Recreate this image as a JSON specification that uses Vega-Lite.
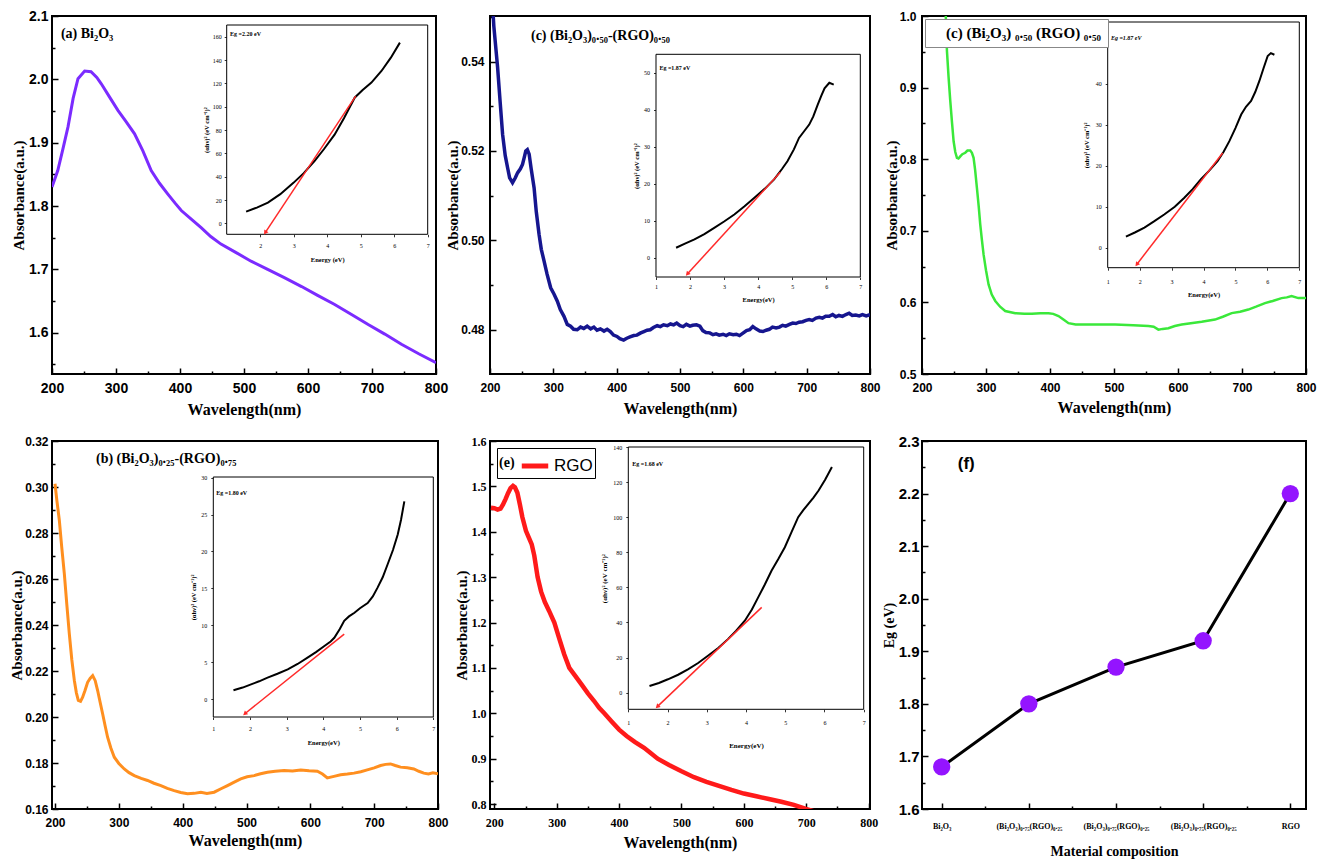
{
"$schema": "https://vega.github.io/schema/vega-lite/v6.json",
"background": "white",
"padding": {"left": 8, "top": 8, "right": 0, "bottom": 0},
"columns": 3,
"spacing": {"row": 67, "column": 52},
"bounds": "flush",
"align": "each",
"resolve": {"scale": {"color": "independent"}, "legend": {"color": "independent"}},
"config": {
  "view": {"stroke": "black", "strokeWidth": 2},
  "axis": {"grid": false, "domain": false, "tickCount": 100, "tickColor": "black", "tickWidth": 1.5, "labelColor": "black", "titleColor": "black", "labelFont": "Liberation Sans", "labelFontWeight": "bold", "titleFont": "Liberation Serif", "titleFontWeight": "bold", "labelOverlap": false, "labelFlush": false, "zindex": 1}
},
"datasets": {
  "a_main": [
    {"wavelength": 200, "absorbance": 1.83}, {"wavelength": 209, "absorbance": 1.856}, {"wavelength": 217, "absorbance": 1.89}, {"wavelength": 225, "absorbance": 1.925}, {"wavelength": 233, "absorbance": 1.97}, {"wavelength": 240.6, "absorbance": 2.001}, {"wavelength": 251, "absorbance": 2.013}, {"wavelength": 261, "absorbance": 2.012}, {"wavelength": 270, "absorbance": 2.003}, {"wavelength": 277, "absorbance": 1.993}, {"wavelength": 290, "absorbance": 1.972}, {"wavelength": 303, "absorbance": 1.951}, {"wavelength": 316, "absorbance": 1.933}, {"wavelength": 329, "absorbance": 1.914}, {"wavelength": 342, "absorbance": 1.887}, {"wavelength": 355, "absorbance": 1.856}, {"wavelength": 368, "absorbance": 1.836}, {"wavelength": 381, "absorbance": 1.819}, {"wavelength": 392, "absorbance": 1.805}, {"wavelength": 402, "absorbance": 1.793}, {"wavelength": 418, "absorbance": 1.779}, {"wavelength": 433, "absorbance": 1.766}, {"wavelength": 448, "absorbance": 1.752}, {"wavelength": 464, "absorbance": 1.74}, {"wavelength": 487, "absorbance": 1.727}, {"wavelength": 511, "absorbance": 1.713}, {"wavelength": 537, "absorbance": 1.7}, {"wavelength": 563, "absorbance": 1.687}, {"wavelength": 590, "absorbance": 1.673}, {"wavelength": 615, "absorbance": 1.659}, {"wavelength": 641, "absorbance": 1.645}, {"wavelength": 668, "absorbance": 1.629}, {"wavelength": 694, "absorbance": 1.613}, {"wavelength": 720, "absorbance": 1.598}, {"wavelength": 746, "absorbance": 1.582}, {"wavelength": 773, "absorbance": 1.567}, {"wavelength": 800, "absorbance": 1.553}
  ],
  "a_inset": [
    {"energy": 1.58, "ahv2": 10}, {"energy": 1.9, "ahv2": 13.5}, {"energy": 2.23, "ahv2": 17.7}, {"energy": 2.6, "ahv2": 25}, {"energy": 3.0, "ahv2": 34.9}, {"energy": 3.3, "ahv2": 43}, {"energy": 3.62, "ahv2": 53.4}, {"energy": 3.9, "ahv2": 63.5}, {"energy": 4.22, "ahv2": 76}, {"energy": 4.5, "ahv2": 90}, {"energy": 4.82, "ahv2": 107.7}, {"energy": 5.05, "ahv2": 114}, {"energy": 5.32, "ahv2": 120.6}, {"energy": 5.62, "ahv2": 130.6}, {"energy": 5.9, "ahv2": 142}, {"energy": 6.17, "ahv2": 154.9}
  ],
  "a_tangent": [{"energy": 4.85, "ahv2": 109, "end": "start"}, {"energy": 2.15, "ahv2": -8, "end": "tip"}],
  "c_main": [
    {"wavelength": 201, "absorbance": 0.56}, {"wavelength": 206, "absorbance": 0.548}, {"wavelength": 212, "absorbance": 0.5387}, {"wavelength": 216, "absorbance": 0.531}, {"wavelength": 219.9, "absorbance": 0.5237}, {"wavelength": 224, "absorbance": 0.519}, {"wavelength": 227.7, "absorbance": 0.5163}, {"wavelength": 231, "absorbance": 0.514}, {"wavelength": 235.6, "absorbance": 0.5129}, {"wavelength": 240, "absorbance": 0.514}, {"wavelength": 243.5, "absorbance": 0.5151}, {"wavelength": 248, "absorbance": 0.516}, {"wavelength": 251.3, "absorbance": 0.517}, {"wavelength": 254, "absorbance": 0.5185}, {"wavelength": 256.5, "absorbance": 0.52}, {"wavelength": 259, "absorbance": 0.5203}, {"wavelength": 261.8, "absorbance": 0.5193}, {"wavelength": 265, "absorbance": 0.516}, {"wavelength": 269.6, "absorbance": 0.5118}, {"wavelength": 273, "absorbance": 0.5065}, {"wavelength": 277.5, "absorbance": 0.5013}, {"wavelength": 281, "absorbance": 0.498}, {"wavelength": 285.3, "absorbance": 0.4954}, {"wavelength": 290, "absorbance": 0.4925}, {"wavelength": 295.8, "absorbance": 0.4894}, {"wavelength": 301, "absorbance": 0.488}, {"wavelength": 306.3, "absorbance": 0.4864}, {"wavelength": 311, "absorbance": 0.4845}, {"wavelength": 316.8, "absorbance": 0.483}, {"wavelength": 322, "absorbance": 0.4812}, {"wavelength": 327.2, "absorbance": 0.4808}, {"wavelength": 332, "absorbance": 0.4801}, {"wavelength": 337.7, "absorbance": 0.48}, {"wavelength": 343, "absorbance": 0.4806}, {"wavelength": 348, "absorbance": 0.4803}, {"wavelength": 353.4, "absorbance": 0.4808}, {"wavelength": 359, "absorbance": 0.4802}, {"wavelength": 364, "absorbance": 0.4806}, {"wavelength": 369, "absorbance": 0.4799}, {"wavelength": 374.3, "absorbance": 0.4802}, {"wavelength": 380, "absorbance": 0.4797}, {"wavelength": 385, "absorbance": 0.4801}, {"wavelength": 390, "absorbance": 0.4796}, {"wavelength": 395, "absorbance": 0.4788}, {"wavelength": 400.5, "absorbance": 0.4785}, {"wavelength": 405, "absorbance": 0.478}, {"wavelength": 411, "absorbance": 0.4777}, {"wavelength": 416, "absorbance": 0.4781}, {"wavelength": 421, "absorbance": 0.4784}, {"wavelength": 427, "absorbance": 0.4787}, {"wavelength": 432, "absorbance": 0.4788}, {"wavelength": 438, "absorbance": 0.4793}, {"wavelength": 443, "absorbance": 0.4796}, {"wavelength": 448, "absorbance": 0.4799}, {"wavelength": 453, "absorbance": 0.48}, {"wavelength": 458, "absorbance": 0.4805}, {"wavelength": 464, "absorbance": 0.4809}, {"wavelength": 469, "absorbance": 0.4807}, {"wavelength": 474, "absorbance": 0.4811}, {"wavelength": 480, "absorbance": 0.4809}, {"wavelength": 485, "absorbance": 0.4813}, {"wavelength": 490, "absorbance": 0.4811}, {"wavelength": 494.8, "absorbance": 0.4815}, {"wavelength": 500, "absorbance": 0.4809}, {"wavelength": 505, "absorbance": 0.4807}, {"wavelength": 510, "absorbance": 0.4812}, {"wavelength": 515.7, "absorbance": 0.4808}, {"wavelength": 520, "absorbance": 0.481}, {"wavelength": 526, "absorbance": 0.4811}, {"wavelength": 531.4, "absorbance": 0.4808}, {"wavelength": 536, "absorbance": 0.4798}, {"wavelength": 541, "absorbance": 0.4794}, {"wavelength": 547.1, "absorbance": 0.4793}, {"wavelength": 552, "absorbance": 0.4789}, {"wavelength": 557, "absorbance": 0.4791}, {"wavelength": 562, "absorbance": 0.4788}, {"wavelength": 568, "absorbance": 0.479}, {"wavelength": 573, "absorbance": 0.4787}, {"wavelength": 578, "absorbance": 0.4791}, {"wavelength": 584, "absorbance": 0.4789}, {"wavelength": 589, "absorbance": 0.479}, {"wavelength": 594, "absorbance": 0.4787}, {"wavelength": 600, "absorbance": 0.4793}, {"wavelength": 605, "absorbance": 0.4798}, {"wavelength": 610, "absorbance": 0.48}, {"wavelength": 615, "absorbance": 0.4807}, {"wavelength": 620, "absorbance": 0.4802}, {"wavelength": 626, "absorbance": 0.4797}, {"wavelength": 631, "absorbance": 0.4796}, {"wavelength": 636, "absorbance": 0.4799}, {"wavelength": 641, "absorbance": 0.4801}, {"wavelength": 646, "absorbance": 0.4806}, {"wavelength": 651.8, "absorbance": 0.4804}, {"wavelength": 657, "absorbance": 0.4806}, {"wavelength": 662, "absorbance": 0.481}, {"wavelength": 667, "absorbance": 0.4808}, {"wavelength": 672.8, "absorbance": 0.4812}, {"wavelength": 678, "absorbance": 0.4815}, {"wavelength": 683, "absorbance": 0.4814}, {"wavelength": 688, "absorbance": 0.4817}, {"wavelength": 693.7, "absorbance": 0.4818}, {"wavelength": 699, "absorbance": 0.4821}, {"wavelength": 704, "absorbance": 0.4823}, {"wavelength": 709, "absorbance": 0.4821}, {"wavelength": 714.7, "absorbance": 0.4826}, {"wavelength": 720, "absorbance": 0.4828}, {"wavelength": 725, "absorbance": 0.4826}, {"wavelength": 730, "absorbance": 0.483}, {"wavelength": 735.6, "absorbance": 0.483}, {"wavelength": 741, "absorbance": 0.4834}, {"wavelength": 746, "absorbance": 0.4829}, {"wavelength": 751, "absorbance": 0.4832}, {"wavelength": 756.5, "absorbance": 0.483}, {"wavelength": 762, "absorbance": 0.4834}, {"wavelength": 767, "absorbance": 0.4837}, {"wavelength": 772, "absorbance": 0.4832}, {"wavelength": 777.5, "absorbance": 0.4833}, {"wavelength": 783, "absorbance": 0.4831}, {"wavelength": 788, "absorbance": 0.4834}, {"wavelength": 794, "absorbance": 0.4831}, {"wavelength": 800, "absorbance": 0.4834}
  ],
  "c_inset": [
    {"energy": 1.59, "ahv2": 2.7}, {"energy": 1.85, "ahv2": 3.8}, {"energy": 2.13, "ahv2": 4.95}, {"energy": 2.42, "ahv2": 6.4}, {"energy": 2.71, "ahv2": 8.1}, {"energy": 3.0, "ahv2": 9.8}, {"energy": 3.3, "ahv2": 11.7}, {"energy": 3.6, "ahv2": 13.9}, {"energy": 3.89, "ahv2": 16.2}, {"energy": 4.2, "ahv2": 18.7}, {"energy": 4.47, "ahv2": 21.2}, {"energy": 4.7, "ahv2": 24}, {"energy": 4.86, "ahv2": 26.1}, {"energy": 5.05, "ahv2": 29.3}, {"energy": 5.2, "ahv2": 32.4}, {"energy": 5.35, "ahv2": 34.2}, {"energy": 5.5, "ahv2": 36}, {"energy": 5.62, "ahv2": 38.2}, {"energy": 5.75, "ahv2": 41.4}, {"energy": 5.85, "ahv2": 43.7}, {"energy": 5.95, "ahv2": 45.8}, {"energy": 6.09, "ahv2": 47.3}, {"energy": 6.22, "ahv2": 46.8}
  ],
  "c_tangent": [{"energy": 4.65, "ahv2": 23.1, "end": "start"}, {"energy": 1.92, "ahv2": -4.4, "end": "tip"}],
  "cr_main": [
    {"wavelength": 236.4, "absorbance": 1.02}, {"wavelength": 239, "absorbance": 0.951}, {"wavelength": 241.5, "absorbance": 0.915}, {"wavelength": 244.2, "absorbance": 0.881}, {"wavelength": 247, "absorbance": 0.85}, {"wavelength": 249.4, "absorbance": 0.825}, {"wavelength": 252, "absorbance": 0.81}, {"wavelength": 254.6, "absorbance": 0.802}, {"wavelength": 257, "absorbance": 0.801}, {"wavelength": 259.8, "absorbance": 0.804}, {"wavelength": 263, "absorbance": 0.807}, {"wavelength": 267.6, "absorbance": 0.809}, {"wavelength": 271, "absorbance": 0.812}, {"wavelength": 275.4, "absorbance": 0.812}, {"wavelength": 278, "absorbance": 0.809}, {"wavelength": 280.6, "absorbance": 0.802}, {"wavelength": 283, "absorbance": 0.785}, {"wavelength": 285.8, "absorbance": 0.76}, {"wavelength": 288.5, "absorbance": 0.735}, {"wavelength": 291, "absorbance": 0.709}, {"wavelength": 293.5, "absorbance": 0.688}, {"wavelength": 296.2, "absorbance": 0.667}, {"wavelength": 300, "absorbance": 0.645}, {"wavelength": 304, "absorbance": 0.625}, {"wavelength": 309, "absorbance": 0.611}, {"wavelength": 314.5, "absorbance": 0.602}, {"wavelength": 322, "absorbance": 0.594}, {"wavelength": 330, "absorbance": 0.588}, {"wavelength": 345.7, "absorbance": 0.585}, {"wavelength": 360, "absorbance": 0.584}, {"wavelength": 371.7, "absorbance": 0.584}, {"wavelength": 385, "absorbance": 0.585}, {"wavelength": 397.7, "absorbance": 0.585}, {"wavelength": 405, "absorbance": 0.584}, {"wavelength": 413.3, "absorbance": 0.581}, {"wavelength": 421, "absorbance": 0.576}, {"wavelength": 428.9, "absorbance": 0.571}, {"wavelength": 440, "absorbance": 0.569}, {"wavelength": 449.7, "absorbance": 0.569}, {"wavelength": 475, "absorbance": 0.569}, {"wavelength": 501.8, "absorbance": 0.569}, {"wavelength": 530, "absorbance": 0.568}, {"wavelength": 553.8, "absorbance": 0.567}, {"wavelength": 562, "absorbance": 0.566}, {"wavelength": 569.4, "absorbance": 0.562}, {"wavelength": 576, "absorbance": 0.563}, {"wavelength": 585, "absorbance": 0.564}, {"wavelength": 595, "absorbance": 0.567}, {"wavelength": 605.8, "absorbance": 0.569}, {"wavelength": 620, "absorbance": 0.571}, {"wavelength": 637, "absorbance": 0.573}, {"wavelength": 657.8, "absorbance": 0.576}, {"wavelength": 670, "absorbance": 0.58}, {"wavelength": 683.9, "absorbance": 0.585}, {"wavelength": 697, "absorbance": 0.587}, {"wavelength": 709.9, "absorbance": 0.59}, {"wavelength": 722, "absorbance": 0.594}, {"wavelength": 735.9, "absorbance": 0.599}, {"wavelength": 748, "absorbance": 0.602}, {"wavelength": 761.9, "absorbance": 0.606}, {"wavelength": 770, "absorbance": 0.607}, {"wavelength": 777.5, "absorbance": 0.609}, {"wavelength": 788, "absorbance": 0.606}, {"wavelength": 800, "absorbance": 0.606}
  ],
  "cr_inset": [
    {"energy": 1.57, "ahv2": 2.7}, {"energy": 1.85, "ahv2": 3.7}, {"energy": 2.15, "ahv2": 4.9}, {"energy": 2.45, "ahv2": 6.4}, {"energy": 2.77, "ahv2": 8.1}, {"energy": 3.1, "ahv2": 10}, {"energy": 3.4, "ahv2": 12.2}, {"energy": 3.66, "ahv2": 14.3}, {"energy": 3.92, "ahv2": 16.7}, {"energy": 4.18, "ahv2": 18.8}, {"energy": 4.44, "ahv2": 21.1}, {"energy": 4.63, "ahv2": 23.4}, {"energy": 4.81, "ahv2": 26}, {"energy": 5.0, "ahv2": 29.2}, {"energy": 5.18, "ahv2": 32.5}, {"energy": 5.33, "ahv2": 34.4}, {"energy": 5.49, "ahv2": 35.8}, {"energy": 5.62, "ahv2": 38}, {"energy": 5.75, "ahv2": 40.7}, {"energy": 5.88, "ahv2": 43.8}, {"energy": 6.01, "ahv2": 46.8}, {"energy": 6.11, "ahv2": 47.5}, {"energy": 6.22, "ahv2": 47.1}
  ],
  "cr_tangent": [{"energy": 4.6, "ahv2": 23.1, "end": "start"}, {"energy": 1.91, "ahv2": -4.1, "end": "tip"}],
  "b_main": [
    {"wavelength": 200, "absorbance": 0.3014}, {"wavelength": 203, "absorbance": 0.294}, {"wavelength": 206.8, "absorbance": 0.2855}, {"wavelength": 210.5, "absorbance": 0.274}, {"wavelength": 214.6, "absorbance": 0.2623}, {"wavelength": 218.5, "absorbance": 0.249}, {"wavelength": 222.4, "absorbance": 0.2362}, {"wavelength": 226.3, "absorbance": 0.225}, {"wavelength": 230.3, "absorbance": 0.2159}, {"wavelength": 233.5, "absorbance": 0.2105}, {"wavelength": 236.5, "absorbance": 0.2072}, {"wavelength": 240, "absorbance": 0.2068}, {"wavelength": 243.3, "absorbance": 0.2086}, {"wavelength": 247, "absorbance": 0.2115}, {"wavelength": 251.1, "absorbance": 0.2151}, {"wavelength": 255, "absorbance": 0.2168}, {"wavelength": 259, "absorbance": 0.218}, {"wavelength": 263, "absorbance": 0.2158}, {"wavelength": 266.8, "absorbance": 0.2115}, {"wavelength": 270.7, "absorbance": 0.2064}, {"wavelength": 274.6, "absorbance": 0.2014}, {"wavelength": 278.5, "absorbance": 0.1962}, {"wavelength": 282.4, "absorbance": 0.1912}, {"wavelength": 287.5, "absorbance": 0.1865}, {"wavelength": 292.9, "absorbance": 0.1825}, {"wavelength": 300, "absorbance": 0.1798}, {"wavelength": 308.5, "absorbance": 0.1774}, {"wavelength": 316, "absorbance": 0.1758}, {"wavelength": 324.2, "absorbance": 0.1745}, {"wavelength": 335, "absorbance": 0.1733}, {"wavelength": 345, "absorbance": 0.1724}, {"wavelength": 355, "absorbance": 0.1712}, {"wavelength": 365.9, "absorbance": 0.1702}, {"wavelength": 376, "absorbance": 0.169}, {"wavelength": 386.7, "absorbance": 0.168}, {"wavelength": 397, "absorbance": 0.1672}, {"wavelength": 407.6, "absorbance": 0.1666}, {"wavelength": 418, "absorbance": 0.1668}, {"wavelength": 428.5, "absorbance": 0.1673}, {"wavelength": 438, "absorbance": 0.1668}, {"wavelength": 449.3, "absorbance": 0.1673}, {"wavelength": 460, "absorbance": 0.1688}, {"wavelength": 470.2, "absorbance": 0.1702}, {"wavelength": 480, "absorbance": 0.1716}, {"wavelength": 491, "absorbance": 0.1731}, {"wavelength": 501, "absorbance": 0.174}, {"wavelength": 511.9, "absorbance": 0.1745}, {"wavelength": 522, "absorbance": 0.1753}, {"wavelength": 532.8, "absorbance": 0.176}, {"wavelength": 545, "absorbance": 0.1764}, {"wavelength": 558.9, "absorbance": 0.1767}, {"wavelength": 572, "absorbance": 0.1765}, {"wavelength": 585, "absorbance": 0.177}, {"wavelength": 598, "absorbance": 0.1766}, {"wavelength": 611, "absorbance": 0.1764}, {"wavelength": 619, "absorbance": 0.1752}, {"wavelength": 626.6, "absorbance": 0.1735}, {"wavelength": 637, "absorbance": 0.1742}, {"wavelength": 647.5, "absorbance": 0.1749}, {"wavelength": 658, "absorbance": 0.1752}, {"wavelength": 668.4, "absorbance": 0.1756}, {"wavelength": 679, "absorbance": 0.1762}, {"wavelength": 689.2, "absorbance": 0.177}, {"wavelength": 700, "absorbance": 0.1779}, {"wavelength": 710.1, "absorbance": 0.1789}, {"wavelength": 718, "absorbance": 0.1794}, {"wavelength": 725.7, "absorbance": 0.1796}, {"wavelength": 733, "absorbance": 0.1789}, {"wavelength": 741.3, "absorbance": 0.1782}, {"wavelength": 752, "absorbance": 0.1779}, {"wavelength": 762.2, "absorbance": 0.1774}, {"wavelength": 770, "absorbance": 0.1764}, {"wavelength": 777.8, "absorbance": 0.1756}, {"wavelength": 785, "absorbance": 0.1752}, {"wavelength": 792, "absorbance": 0.1757}, {"wavelength": 800, "absorbance": 0.1753}
  ],
  "b_inset": [
    {"energy": 1.55, "ahv2": 1.18}, {"energy": 1.8, "ahv2": 1.55}, {"energy": 2.03, "ahv2": 1.99}, {"energy": 2.25, "ahv2": 2.4}, {"energy": 2.48, "ahv2": 2.89}, {"energy": 2.75, "ahv2": 3.42}, {"energy": 3.03, "ahv2": 4.02}, {"energy": 3.3, "ahv2": 4.75}, {"energy": 3.57, "ahv2": 5.6}, {"energy": 3.8, "ahv2": 6.35}, {"energy": 4.03, "ahv2": 7.18}, {"energy": 4.2, "ahv2": 7.8}, {"energy": 4.3, "ahv2": 8.3}, {"energy": 4.45, "ahv2": 9.5}, {"energy": 4.57, "ahv2": 10.6}, {"energy": 4.7, "ahv2": 11.2}, {"energy": 4.85, "ahv2": 11.7}, {"energy": 5.0, "ahv2": 12.3}, {"energy": 5.21, "ahv2": 13.0}, {"energy": 5.35, "ahv2": 13.9}, {"energy": 5.48, "ahv2": 15.1}, {"energy": 5.62, "ahv2": 16.5}, {"energy": 5.75, "ahv2": 18.2}, {"energy": 5.9, "ahv2": 20.2}, {"energy": 6.03, "ahv2": 22.3}, {"energy": 6.12, "ahv2": 24.3}, {"energy": 6.21, "ahv2": 26.8}
  ],
  "b_tangent": [{"energy": 4.57, "ahv2": 8.8, "end": "start"}, {"energy": 1.86, "ahv2": -2.0, "end": "tip"}],
  "e_main": [
    {"wavelength": 194.6, "absorbance": 1.453}, {"wavelength": 200, "absorbance": 1.452}, {"wavelength": 205.3, "absorbance": 1.449}, {"wavelength": 210, "absorbance": 1.451}, {"wavelength": 214, "absorbance": 1.46}, {"wavelength": 218, "absorbance": 1.472}, {"wavelength": 222, "absorbance": 1.485}, {"wavelength": 226, "absorbance": 1.496}, {"wavelength": 230, "absorbance": 1.501}, {"wavelength": 233, "absorbance": 1.498}, {"wavelength": 237, "absorbance": 1.486}, {"wavelength": 241, "absorbance": 1.46}, {"wavelength": 245, "absorbance": 1.432}, {"wavelength": 250.7, "absorbance": 1.402}, {"wavelength": 255, "absorbance": 1.388}, {"wavelength": 260, "absorbance": 1.372}, {"wavelength": 264, "absorbance": 1.348}, {"wavelength": 269.4, "absorbance": 1.3}, {"wavelength": 275, "absorbance": 1.268}, {"wavelength": 281, "absorbance": 1.245}, {"wavelength": 288, "absorbance": 1.225}, {"wavelength": 296.2, "absorbance": 1.2}, {"wavelength": 304, "absorbance": 1.165}, {"wavelength": 312, "absorbance": 1.13}, {"wavelength": 320.2, "absorbance": 1.1}, {"wavelength": 330, "absorbance": 1.082}, {"wavelength": 340, "absorbance": 1.063}, {"wavelength": 350, "absorbance": 1.044}, {"wavelength": 360, "absorbance": 1.027}, {"wavelength": 368, "absorbance": 1.012}, {"wavelength": 376.3, "absorbance": 1.0}, {"wavelength": 388, "absorbance": 0.982}, {"wavelength": 400, "absorbance": 0.964}, {"wavelength": 412, "absorbance": 0.95}, {"wavelength": 425, "absorbance": 0.937}, {"wavelength": 440, "absorbance": 0.924}, {"wavelength": 450, "absorbance": 0.913}, {"wavelength": 461.8, "absorbance": 0.9}, {"wavelength": 480, "absorbance": 0.886}, {"wavelength": 500, "absorbance": 0.872}, {"wavelength": 520, "absorbance": 0.859}, {"wavelength": 540, "absorbance": 0.849}, {"wavelength": 560, "absorbance": 0.84}, {"wavelength": 580, "absorbance": 0.831}, {"wavelength": 600, "absorbance": 0.823}, {"wavelength": 620, "absorbance": 0.817}, {"wavelength": 640, "absorbance": 0.811}, {"wavelength": 660, "absorbance": 0.805}, {"wavelength": 680, "absorbance": 0.798}, {"wavelength": 699.5, "absorbance": 0.789}, {"wavelength": 712, "absorbance": 0.784}
  ],
  "e_inset": [
    {"energy": 1.54, "ahv2": 3.8}, {"energy": 1.78, "ahv2": 5.5}, {"energy": 2.01, "ahv2": 7.6}, {"energy": 2.27, "ahv2": 10.2}, {"energy": 2.52, "ahv2": 13.3}, {"energy": 2.78, "ahv2": 16.9}, {"energy": 3.03, "ahv2": 21}, {"energy": 3.3, "ahv2": 25.6}, {"energy": 3.54, "ahv2": 30.5}, {"energy": 3.75, "ahv2": 35.3}, {"energy": 3.97, "ahv2": 41}, {"energy": 4.15, "ahv2": 47.4}, {"energy": 4.31, "ahv2": 54.3}, {"energy": 4.48, "ahv2": 61.6}, {"energy": 4.65, "ahv2": 69.5}, {"energy": 4.82, "ahv2": 76}, {"energy": 4.99, "ahv2": 82.9}, {"energy": 5.16, "ahv2": 91.5}, {"energy": 5.33, "ahv2": 100}, {"energy": 5.46, "ahv2": 104}, {"energy": 5.59, "ahv2": 107.6}, {"energy": 5.72, "ahv2": 111.2}, {"energy": 5.85, "ahv2": 115.2}, {"energy": 6.02, "ahv2": 121.5}, {"energy": 6.19, "ahv2": 128.6}
  ],
  "e_tangent": [{"energy": 4.4, "ahv2": 48.6, "end": "start"}, {"energy": 1.74, "ahv2": -8.0, "end": "tip"}],
  "f_eg": [
    {"sample_no": 1, "composition": "Bi₂O₃", "eg": 1.68}, {"sample_no": 2, "composition": "(Bi₂O₃)₀.₇₅(RGO)₀.₂₅", "eg": 1.8}, {"sample_no": 3, "composition": "(Bi₂O₃)₀.₇₅(RGO)₀.₂₅", "eg": 1.87}, {"sample_no": 4, "composition": "(Bi₂O₃)₀.₇₅(RGO)₀.₂₅", "eg": 1.92}, {"sample_no": 5, "composition": "RGO", "eg": 2.2}
  ]
},
"concat": [
 {
  "width": 384, "height": 358,
  "layer": [
   {"layer": [
     {"data": {"name": "a_main"}, "mark": {"type": "line", "color": "#7B2BFF", "strokeWidth": 3, "clip": true},
      "encoding": {
        "x": {"field": "wavelength", "type": "quantitative", "scale": {"domain": [200, 800], "nice": false, "zero": false},
              "axis": {"orient": "bottom", "values": [200,250,300,350,400,450,500,550,600,650,700,750,800], "labelExpr": "datum.value % 100 === 0 ? datum.label : ''", "tickSize": {"condition": {"test": "datum.value % 100 === 0", "value": -6}, "value": -3}, "labelPadding": 13, "labelFontSize": 14, "title": "Wavelength(nm)", "titleFontSize": 16, "titlePadding": 3}},
        "y": {"field": "absorbance", "type": "quantitative", "scale": {"domain": [1.535, 2.1], "nice": false, "zero": false},
              "axis": {"orient": "left", "values": [1.55,1.6,1.65,1.7,1.75,1.8,1.85,1.9,1.95,2.0,2.05,2.1], "labelExpr": "abs(datum.value*10 - round(datum.value*10)) < 0.01 ? format(datum.value, '.1f') : ''", "tickSize": {"condition": {"test": "abs(datum.value*10 - round(datum.value*10)) < 0.01", "value": -6}, "value": -3}, "labelPadding": 10, "labelFontSize": 14, "title": "Absorbance(a.u.)", "titleFontSize": 15, "titlePadding": 2}}
      }},
     {"data": {"values": [{"label": "(a)  Bi₂O₃"}]}, "mark": {"type": "text", "align": "left", "baseline": "middle", "font": "Liberation Serif", "fontWeight": "bold", "fontSize": 14},
      "encoding": {"x": {"datum": 214, "type": "quantitative"}, "y": {"datum": 2.072, "type": "quantitative"}, "text": {"field": "label"}}}
   ]},
   {"layer": [
     {"data": {"values": [{}]}, "mark": {"type": "rect", "fill": "white", "stroke": "black", "strokeWidth": 1},
      "encoding": {
        "x": {"datum": 1, "type": "quantitative", "scale": {"domain": [1, 7], "range": [174.7, 375.7], "nice": false, "zero": false},
              "axis": {"orient": "bottom", "offset": -139.7, "values": [2,3,4,5,6,7], "format": "d", "tickSize": 2.5, "tickWidth": 0.8, "labelPadding": 6, "labelFontSize": 6, "labelFont": "Liberation Serif", "labelFontWeight": "normal", "title": "Energy (eV)", "titleFontSize": 6.5, "titlePadding": 8}},
        "x2": {"datum": 7},
        "y": {"datum": -9.4, "type": "quantitative", "scale": {"domain": [-9.4, 170], "range": [218.3, 9], "nice": false, "zero": false},
              "axis": {"orient": "left", "offset": -174.7, "values": [0,20,40,60,80,100,120,140,160], "format": "d", "tickSize": 2.5, "tickWidth": 0.8, "labelPadding": 3, "labelFontSize": 6, "labelFont": "Liberation Serif", "labelFontWeight": "normal", "title": "(αhν)² (eV cm⁻¹)²", "titleFontSize": 6.5, "titlePadding": 3}},
        "y2": {"datum": 170}
      }},
     {"data": {"name": "a_inset"}, "mark": {"type": "line", "color": "black", "strokeWidth": 2},
      "encoding": {"x": {"field": "energy", "type": "quantitative"}, "y": {"field": "ahv2", "type": "quantitative"}}},
     {"data": {"name": "a_tangent"}, "mark": {"type": "line", "color": "#FF2A2A", "strokeWidth": 1.5},
      "encoding": {"x": {"field": "energy", "type": "quantitative"}, "y": {"field": "ahv2", "type": "quantitative"}}},
     {"data": {"name": "a_tangent"}, "transform": [{"filter": "datum.end === 'tip'"}], "mark": {"type": "point", "shape": "triangle-up", "filled": true, "color": "#FF2A2A", "opacity": 1, "size": 25, "angle": 213},
      "encoding": {"x": {"field": "energy", "type": "quantitative"}, "y": {"field": "ahv2", "type": "quantitative"}}},
     {"data": {"values": [{"label": "Eg =2.20 eV"}]}, "mark": {"type": "text", "align": "left", "baseline": "middle", "font": "Liberation Serif", "fontWeight": "bold", "fontSize": 6},
      "encoding": {"x": {"datum": 1.1, "type": "quantitative"}, "y": {"datum": 162, "type": "quantitative"}, "text": {"field": "label"}}}
   ]}
  ],
  "resolve": {"scale": {"x": "independent", "y": "independent"}, "axis": {"x": "independent", "y": "independent"}}
 },
 {
  "width": 380, "height": 358,
  "layer": [
   {"layer": [
     {"data": {"name": "c_main"}, "mark": {"type": "line", "color": "#16168F", "strokeWidth": 3.5, "clip": true},
      "encoding": {
        "x": {"field": "wavelength", "type": "quantitative", "scale": {"domain": [200, 800], "nice": false, "zero": false},
              "axis": {"orient": "bottom", "values": [200,250,300,350,400,450,500,550,600,650,700,750,800], "labelExpr": "datum.value % 100 === 0 ? datum.label : ''", "tickSize": {"condition": {"test": "datum.value % 100 === 0", "value": -6}, "value": -3}, "labelPadding": 14, "labelFontSize": 12, "title": "Wavelength(nm)", "titleFontSize": 16, "titlePadding": 4}},
        "y": {"field": "absorbance", "type": "quantitative", "scale": {"domain": [0.4701, 0.5502], "nice": false, "zero": false},
              "axis": {"orient": "left", "values": [0.47,0.48,0.49,0.5,0.51,0.52,0.53,0.54,0.55], "labelExpr": "round(datum.value*100) % 2 === 0 ? format(datum.value, '.2f') : ''", "tickSize": {"condition": {"test": "round(datum.value*100) % 2 === 0", "value": -6}, "value": -3}, "labelPadding": 12, "labelFontSize": 12, "title": "Absorbance(a.u.)", "titleFontSize": 15, "titlePadding": 0}}
      }},
     {"data": {"values": [{"label": "(c)  (Bi₂O₃)₀.₅₀-(RGO)₀.₅₀"}]}, "mark": {"type": "text", "align": "left", "baseline": "middle", "font": "Liberation Serif", "fontWeight": "bold", "fontSize": 14},
      "encoding": {"x": {"datum": 264.7, "type": "quantitative"}, "y": {"datum": 0.5457, "type": "quantitative"}, "text": {"field": "label"}}}
   ]},
   {"layer": [
     {"data": {"values": [{}]}, "mark": {"type": "rect", "fill": "white", "stroke": "black", "strokeWidth": 1},
      "encoding": {
        "x": {"datum": 1, "type": "quantitative", "scale": {"domain": [1, 7], "range": [166, 370.3], "nice": false, "zero": false},
              "axis": {"orient": "bottom", "offset": -97, "values": [1,2,3,4,5,6,7], "format": "d", "tickSize": 2.5, "tickWidth": 0.8, "labelPadding": 4, "labelFontSize": 6, "labelFont": "Liberation Serif", "labelFontWeight": "normal", "title": "Energy(eV)", "titleFontSize": 6.5, "titlePadding": 7}},
        "x2": {"datum": 7},
        "y": {"datum": -5.2, "type": "quantitative", "scale": {"domain": [-5.2, 55], "range": [261, 38.3], "nice": false, "zero": false},
              "axis": {"orient": "left", "offset": -166, "values": [0,10,20,30,40,50], "format": "d", "tickSize": 2.5, "tickWidth": 0.8, "labelPadding": 4, "labelFontSize": 6, "labelFont": "Liberation Serif", "labelFontWeight": "normal", "title": "(αhν)² (eV cm⁻¹)²", "titleFontSize": 6.5, "titlePadding": 4}},
        "y2": {"datum": 55}
      }},
     {"data": {"name": "c_inset"}, "mark": {"type": "line", "color": "black", "strokeWidth": 2},
      "encoding": {"x": {"field": "energy", "type": "quantitative"}, "y": {"field": "ahv2", "type": "quantitative"}}},
     {"data": {"name": "c_tangent"}, "mark": {"type": "line", "color": "#FF2A2A", "strokeWidth": 1.5},
      "encoding": {"x": {"field": "energy", "type": "quantitative"}, "y": {"field": "ahv2", "type": "quantitative"}}},
     {"data": {"name": "c_tangent"}, "transform": [{"filter": "datum.end === 'tip'"}], "mark": {"type": "point", "shape": "triangle-up", "filled": true, "color": "#FF2A2A", "opacity": 1, "size": 25, "angle": 222},
      "encoding": {"x": {"field": "energy", "type": "quantitative"}, "y": {"field": "ahv2", "type": "quantitative"}}},
     {"data": {"values": [{"label": "Eg =1.87 eV"}]}, "mark": {"type": "text", "align": "left", "baseline": "middle", "font": "Liberation Serif", "fontWeight": "bold", "fontSize": 6},
      "encoding": {"x": {"datum": 1.1, "type": "quantitative"}, "y": {"datum": 51.4, "type": "quantitative"}, "text": {"field": "label"}}}
   ]}
  ],
  "resolve": {"scale": {"x": "independent", "y": "independent"}, "axis": {"x": "independent", "y": "independent"}}
 },
 {
  "width": 384, "height": 358,
  "layer": [
   {"layer": [
     {"data": {"name": "cr_main"}, "mark": {"type": "line", "strokeWidth": 2.5, "clip": true},
      "encoding": {
        "x": {"field": "wavelength", "type": "quantitative", "scale": {"domain": [200, 800], "nice": false, "zero": false},
              "axis": {"orient": "bottom", "values": [200,250,300,350,400,450,500,550,600,650,700,750,800], "labelExpr": "datum.value % 100 === 0 ? datum.label : ''", "tickSize": {"condition": {"test": "datum.value % 100 === 0", "value": -6}, "value": -3}, "labelPadding": 14, "labelFontSize": 12, "title": "Wavelength(nm)", "titleFontSize": 16, "titlePadding": 3}},
        "y": {"field": "absorbance", "type": "quantitative", "scale": {"domain": [0.5, 1.0], "nice": false, "zero": false},
              "axis": {"orient": "left", "values": [0.5,0.55,0.6,0.65,0.7,0.75,0.8,0.85,0.9,0.95,1.0], "labelExpr": "abs(datum.value*10 - round(datum.value*10)) < 0.01 ? format(datum.value, '.1f') : ''", "tickSize": {"condition": {"test": "abs(datum.value*10 - round(datum.value*10)) < 0.01", "value": -6}, "value": -3}, "labelPadding": 12, "labelFontSize": 12, "title": "Absorbance(a.u.)", "titleFontSize": 15, "titlePadding": 0}},
        "color": {"datum": "(c) (Bi₂O₃) ₀.₅₀ (RGO) ₀.₅₀", "type": "nominal", "scale": {"range": ["#3AE83A"]},
                  "legend": {"title": null, "orient": "top-left", "offset": 3, "symbolOpacity": 0, "symbolSize": 0, "labelOffset": 0, "labelFont": "Liberation Serif", "labelFontWeight": "bold", "labelFontSize": 15, "labelColor": "black", "labelLimit": 400, "strokeColor": "#888888", "padding": 6, "fillColor": "white"}}
      }}
   ]},
   {"layer": [
     {"data": {"values": [{}]}, "mark": {"type": "rect", "fill": "white", "stroke": "black", "strokeWidth": 1},
      "encoding": {
        "x": {"datum": 1, "type": "quantitative", "scale": {"domain": [1, 7], "range": [185.7, 377.3], "nice": false, "zero": false},
              "axis": {"orient": "bottom", "offset": -106.3, "values": [1,2,3,4,5,6,7], "format": "d", "tickSize": 2.5, "tickWidth": 0.8, "labelPadding": 8, "labelFontSize": 6, "labelFont": "Liberation Serif", "labelFontWeight": "normal", "title": "Energy(eV)", "titleFontSize": 6.5, "titlePadding": 7}},
        "x2": {"datum": 7},
        "y": {"datum": -4.9, "type": "quantitative", "scale": {"domain": [-4.9, 55.1], "range": [251.7, 6], "nice": false, "zero": false},
              "axis": {"orient": "left", "offset": -185.7, "values": [0,10,20,30,40,50], "format": "d", "tickSize": 2.5, "tickWidth": 0.8, "labelPadding": 4, "labelFontSize": 6, "labelFont": "Liberation Serif", "labelFontWeight": "normal", "title": "(αhν)² (eV cm⁻¹)²", "titleFontSize": 6.5, "titlePadding": 6}},
        "y2": {"datum": 55.1}
      }},
     {"data": {"name": "cr_inset"}, "mark": {"type": "line", "color": "black", "strokeWidth": 2},
      "encoding": {"x": {"field": "energy", "type": "quantitative"}, "y": {"field": "ahv2", "type": "quantitative"}}},
     {"data": {"name": "cr_tangent"}, "mark": {"type": "line", "color": "#FF2A2A", "strokeWidth": 1.5},
      "encoding": {"x": {"field": "energy", "type": "quantitative"}, "y": {"field": "ahv2", "type": "quantitative"}}},
     {"data": {"name": "cr_tangent"}, "transform": [{"filter": "datum.end === 'tip'"}], "mark": {"type": "point", "shape": "triangle-up", "filled": true, "color": "#FF2A2A", "opacity": 1, "size": 25, "angle": 217},
      "encoding": {"x": {"field": "energy", "type": "quantitative"}, "y": {"field": "ahv2", "type": "quantitative"}}},
     {"data": {"values": [{"label": "Eg =1.87 eV"}]}, "mark": {"type": "text", "align": "left", "baseline": "middle", "font": "Liberation Serif", "fontWeight": "bold", "fontStyle": "italic", "fontSize": 6},
      "encoding": {"x": {"datum": 1.1, "type": "quantitative"}, "y": {"datum": 51.3, "type": "quantitative"}, "text": {"field": "label"}}}
   ]}
  ],
  "resolve": {"scale": {"x": "independent", "y": "independent"}, "axis": {"x": "independent", "y": "independent"}}
 },
 {
  "width": 386, "height": 368,
  "layer": [
   {"layer": [
     {"data": {"name": "b_main"}, "mark": {"type": "line", "color": "#FF8F1F", "strokeWidth": 3, "clip": true},
      "encoding": {
        "x": {"field": "wavelength", "type": "quantitative", "scale": {"domain": [195.3, 800], "nice": false, "zero": false},
              "axis": {"orient": "bottom", "values": [200,250,300,350,400,450,500,550,600,650,700,750,800], "labelExpr": "datum.value % 100 === 0 ? datum.label : ''", "tickSize": {"condition": {"test": "datum.value % 100 === 0", "value": -6}, "value": -3}, "labelPadding": 14, "labelFontSize": 12, "title": "Wavelength(nm)", "titleFontSize": 16, "titlePadding": 1}},
        "y": {"field": "absorbance", "type": "quantitative", "scale": {"domain": [0.16, 0.32], "nice": false, "zero": false},
              "axis": {"orient": "left", "values": [0.16,0.17,0.18,0.19,0.2,0.21,0.22,0.23,0.24,0.25,0.26,0.27,0.28,0.29,0.3,0.31,0.32], "labelExpr": "round(datum.value*100) % 2 === 0 ? format(datum.value, '.2f') : ''", "tickSize": {"condition": {"test": "round(datum.value*100) % 2 === 0", "value": -6}, "value": -3}, "labelPadding": 10, "labelFontSize": 12, "title": "Absorbance(a.u.)", "titleFontSize": 15, "titlePadding": 0}}
      }},
     {"data": {"values": [{"label": "(b)  (Bi₂O₃)₀.₂₅-(RGO)₀.₇₅"}]}, "mark": {"type": "text", "align": "left", "baseline": "middle", "font": "Liberation Serif", "fontWeight": "bold", "fontSize": 14},
      "encoding": {"x": {"datum": 264.2, "type": "quantitative"}, "y": {"datum": 0.312, "type": "quantitative"}, "text": {"field": "label"}}}
   ]},
   {"layer": [
     {"data": {"values": [{}]}, "mark": {"type": "rect", "fill": "white", "stroke": "black", "strokeWidth": 1},
      "encoding": {
        "x": {"datum": 1, "type": "quantitative", "scale": {"domain": [1, 7], "range": [161.3, 381.3], "nice": false, "zero": false},
              "axis": {"orient": "bottom", "offset": -92, "values": [1,2,3,4,5,6,7], "format": "d", "tickSize": 2.5, "tickWidth": 0.8, "labelPadding": 6, "labelFontSize": 6, "labelFont": "Liberation Serif", "labelFontWeight": "normal", "title": "Energy(eV)", "titleFontSize": 6.5, "titlePadding": 8}},
        "x2": {"datum": 7},
        "y": {"datum": -2.44, "type": "quantitative", "scale": {"domain": [-2.44, 30.1], "range": [276, 36], "nice": false, "zero": false},
              "axis": {"orient": "left", "offset": -161.3, "values": [0,5,10,15,20,25,30], "format": "d", "tickSize": 2.5, "tickWidth": 0.8, "labelPadding": 4, "labelFontSize": 6, "labelFont": "Liberation Serif", "labelFontWeight": "normal", "title": "(αhν)² (eV cm⁻¹)²", "titleFontSize": 6.5, "titlePadding": 4}},
        "y2": {"datum": 30.1}
      }},
     {"data": {"name": "b_inset"}, "mark": {"type": "line", "color": "black", "strokeWidth": 2},
      "encoding": {"x": {"field": "energy", "type": "quantitative"}, "y": {"field": "ahv2", "type": "quantitative"}}},
     {"data": {"name": "b_tangent"}, "mark": {"type": "line", "color": "#FF2A2A", "strokeWidth": 1.5},
      "encoding": {"x": {"field": "energy", "type": "quantitative"}, "y": {"field": "ahv2", "type": "quantitative"}}},
     {"data": {"name": "b_tangent"}, "transform": [{"filter": "datum.end === 'tip'"}], "mark": {"type": "point", "shape": "triangle-up", "filled": true, "color": "#FF2A2A", "opacity": 1, "size": 25, "angle": 230},
      "encoding": {"x": {"field": "energy", "type": "quantitative"}, "y": {"field": "ahv2", "type": "quantitative"}}},
     {"data": {"values": [{"label": "Eg =1.80 eV"}]}, "mark": {"type": "text", "align": "left", "baseline": "middle", "font": "Liberation Serif", "fontWeight": "bold", "fontSize": 6},
      "encoding": {"x": {"datum": 1.08, "type": "quantitative"}, "y": {"datum": 27.9, "type": "quantitative"}, "text": {"field": "label"}}}
   ]}
  ],
  "resolve": {"scale": {"x": "independent", "y": "independent"}, "axis": {"x": "independent", "y": "independent"}}
 },
 {
  "width": 380, "height": 368,
  "layer": [
   {"layer": [
     {"data": {"name": "e_main"}, "mark": {"type": "line", "strokeWidth": 4.5, "clip": true},
      "encoding": {
        "x": {"field": "wavelength", "type": "quantitative", "scale": {"domain": [193.1, 802.1], "nice": false, "zero": false},
              "axis": {"orient": "bottom", "values": [200,250,300,350,400,450,500,550,600,650,700,750,800], "labelExpr": "datum.value % 100 === 0 ? datum.label : ''", "tickSize": {"condition": {"test": "datum.value % 100 === 0", "value": -6}, "value": -3}, "labelPadding": 14, "labelFontSize": 12, "labelFont": "Liberation Serif", "title": "Wavelength(nm)", "titleFontSize": 16, "titlePadding": 3}},
        "y": {"field": "absorbance", "type": "quantitative", "scale": {"domain": [0.789, 1.6], "nice": false, "zero": false},
              "axis": {"orient": "left", "values": [0.8,0.85,0.9,0.95,1.0,1.05,1.1,1.15,1.2,1.25,1.3,1.35,1.4,1.45,1.5,1.55,1.6], "labelExpr": "abs(datum.value*10 - round(datum.value*10)) < 0.01 ? format(datum.value, '.1f') : ''", "tickSize": {"condition": {"test": "abs(datum.value*10 - round(datum.value*10)) < 0.01", "value": -6}, "value": -3}, "labelPadding": 10, "labelFontSize": 12, "labelFont": "Liberation Serif", "title": "Absorbance(a.u.)", "titleFontSize": 15, "titlePadding": 2}},
        "color": {"datum": "RGO", "type": "nominal", "scale": {"range": ["#FF1A1A"]},
                  "legend": {"title": "(e)", "titleOrient": "left", "titleFont": "Liberation Serif", "titleFontSize": 14, "titleFontWeight": "bold", "titleColor": "black", "titlePadding": 4, "orient": "top-left", "offset": 7, "symbolType": "stroke", "symbolStrokeWidth": 5, "symbolSize": 700, "labelFont": "Liberation Sans", "labelFontSize": 17, "labelColor": "black", "labelOffset": 3, "strokeColor": "black", "padding": 2, "fillColor": "white"}}
      }}
   ]},
   {"layer": [
     {"data": {"values": [{}]}, "mark": {"type": "rect", "fill": "white", "stroke": "black", "strokeWidth": 1},
      "encoding": {
        "x": {"datum": 1, "type": "quantitative", "scale": {"domain": [1, 7], "range": [138.3, 373.7], "nice": false, "zero": false},
              "axis": {"orient": "bottom", "offset": -99.7, "values": [1,2,3,4,5,6,7], "format": "d", "tickSize": 2.5, "tickWidth": 0.8, "labelPadding": 8, "labelFontSize": 6, "labelFont": "Liberation Serif", "labelFontWeight": "normal", "title": "Energy(eV)", "titleFontSize": 7, "titlePadding": 16}},
        "x2": {"datum": 7},
        "y": {"datum": -9.5, "type": "quantitative", "scale": {"domain": [-9.5, 140], "range": [268.3, 6], "nice": false, "zero": false},
              "axis": {"orient": "left", "offset": -138.3, "values": [0,20,40,60,80,100,120,140], "format": "d", "tickSize": 2.5, "tickWidth": 0.8, "labelPadding": 4, "labelFontSize": 6, "labelFont": "Liberation Serif", "labelFontWeight": "normal", "title": "(αhν)² (eV cm⁻¹)²", "titleFontSize": 7, "titlePadding": 5}},
        "y2": {"datum": 140}
      }},
     {"data": {"name": "e_inset"}, "mark": {"type": "line", "color": "black", "strokeWidth": 2},
      "encoding": {"x": {"field": "energy", "type": "quantitative"}, "y": {"field": "ahv2", "type": "quantitative"}}},
     {"data": {"name": "e_tangent"}, "mark": {"type": "line", "color": "#FF2A2A", "strokeWidth": 1.5},
      "encoding": {"x": {"field": "energy", "type": "quantitative"}, "y": {"field": "ahv2", "type": "quantitative"}}},
     {"data": {"name": "e_tangent"}, "transform": [{"filter": "datum.end === 'tip'"}], "mark": {"type": "point", "shape": "triangle-up", "filled": true, "color": "#FF2A2A", "opacity": 1, "size": 25, "angle": 226},
      "encoding": {"x": {"field": "energy", "type": "quantitative"}, "y": {"field": "ahv2", "type": "quantitative"}}},
     {"data": {"values": [{"label": "Eg =1.68 eV"}]}, "mark": {"type": "text", "align": "left", "baseline": "middle", "font": "Liberation Serif", "fontWeight": "bold", "fontSize": 6},
      "encoding": {"x": {"datum": 1.1, "type": "quantitative"}, "y": {"datum": 130.5, "type": "quantitative"}, "text": {"field": "label"}}}
   ]}
  ],
  "resolve": {"scale": {"x": "independent", "y": "independent"}, "axis": {"x": "independent", "y": "independent"}}
 },
 {
  "width": 384, "height": 368,
  "layer": [
   {"data": {"name": "f_eg"}, "mark": {"type": "line", "color": "black", "strokeWidth": 3},
    "encoding": {
      "x": {"field": "sample_no", "type": "quantitative", "scale": {"domain": [0.774, 5.18], "nice": false, "zero": false},
            "axis": {"orient": "bottom", "values": [1,1.5,2,2.5,3,3.5,4,4.5,5], "labelExpr": "datum.value === 1 ? 'Bi₂O₃' : datum.value === 5 ? 'RGO' : (datum.value % 1 === 0 ? '(Bi₂O₃)₀.₇₅(RGO)₀.₂₅' : '')", "tickSize": {"condition": {"test": "datum.value % 1 === 0", "value": -6}, "value": -3}, "labelPadding": 19, "labelFontSize": 8, "labelFont": "Liberation Serif", "title": "Material composition", "titleFontSize": 14, "titlePadding": 11}},
      "y": {"field": "eg", "type": "quantitative", "scale": {"domain": [1.6, 2.3], "nice": false, "zero": false},
            "axis": {"orient": "left", "values": [1.6,1.65,1.7,1.75,1.8,1.85,1.9,1.95,2.0,2.05,2.1,2.15,2.2,2.25,2.3], "labelExpr": "abs(datum.value*10 - round(datum.value*10)) < 0.01 ? format(datum.value, '.1f') : ''", "tickSize": {"condition": {"test": "abs(datum.value*10 - round(datum.value*10)) < 0.01", "value": -6}, "value": -3}, "labelPadding": 9, "labelFontSize": 15, "title": "Eg (eV)", "titleFontSize": 14, "titlePadding": 2}}
    }},
   {"data": {"name": "f_eg"}, "mark": {"type": "circle", "color": "#9414FF", "size": 300, "opacity": 1},
    "encoding": {"x": {"field": "sample_no", "type": "quantitative"}, "y": {"field": "eg", "type": "quantitative"}}},
   {"data": {"values": [{"label": "(f)"}]}, "mark": {"type": "text", "align": "left", "baseline": "middle", "font": "Liberation Sans", "fontWeight": "bold", "fontSize": 17},
    "encoding": {"x": {"datum": 1.184, "type": "quantitative"}, "y": {"datum": 2.256, "type": "quantitative"}, "text": {"field": "label"}}}
  ]
 }
]
}
